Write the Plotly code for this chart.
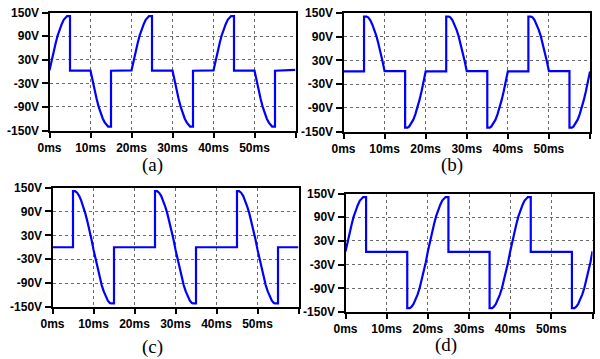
import plotly.graph_objects as go

# ---- data (time in ms, voltage in V) ----
T_A = [0, 0.5, 1, 1.5, 2, 2.5, 3, 3.5, 4, 4.3, 5, 5, 10, 10.5, 11, 11.5, 12, 12.5, 13, 13.5, 14, 14.3, 15, 15,
       20, 20.5, 21, 21.5, 22, 22.5, 23, 23.5, 24, 24.3, 25, 25, 30, 30.5, 31, 31.5, 32, 32.5, 33, 33.5, 34, 34.3, 35, 35,
       40, 40.5, 41, 41.5, 42, 42.5, 43, 43.5, 44, 44.3, 45, 45, 50, 50.5, 51, 51.5, 52, 52.5, 53, 53.5, 54, 54.3, 55, 55,
       60]
V_A = [3, 28, 52, 72, 92, 108, 121, 132, 139, 141, 141, 2, 2, -24, -48, -70, -90, -106, -120, -130, -137, -140, -140, 2,
       3, 28, 52, 72, 92, 108, 121, 132, 139, 141, 141, 2, 2, -24, -48, -70, -90, -106, -120, -130, -137, -140, -140, 2,
       3, 28, 52, 72, 92, 108, 121, 132, 139, 141, 141, 2, 2, -24, -48, -70, -90, -106, -120, -130, -137, -140, -140, 2,
       4]

T_B = [0, 5, 5, 5.6, 6, 6.5, 7, 7.5, 8, 8.5, 9, 9.5, 10, 15, 15, 15.6, 16, 16.5, 17, 17.5, 18, 18.5, 19, 19.5,
       20, 25, 25, 25.6, 26, 26.5, 27, 27.5, 28, 28.5, 29, 29.5, 30, 35, 35, 35.6, 36, 36.5, 37, 37.5, 38, 38.5, 39, 39.5,
       40, 45, 45, 45.6, 46, 46.5, 47, 47.5, 48, 48.5, 49, 49.5, 50, 55, 55, 55.6, 56, 56.5, 57, 57.5, 58, 58.5, 59, 59.5,
       60]
V_B = [2, 2, 141, 141, 139, 132, 121, 108, 92, 72, 52, 28, 3, 3, -140, -140, -137, -130, -120, -106, -90, -70, -48, -24,
       2, 2, 141, 141, 139, 132, 121, 108, 92, 72, 52, 28, 3, 3, -140, -140, -137, -130, -120, -106, -90, -70, -48, -24,
       2, 2, 141, 141, 139, 132, 121, 108, 92, 72, 52, 28, 3, 3, -140, -140, -137, -130, -120, -106, -90, -70, -48, -24,
       2]

T_C = [0, 5, 5, 5.5, 6, 6.5, 7, 7.5, 8, 8.5, 9, 9.5, 10, 10.5, 11, 11.5, 12, 12.5, 13, 13.5, 14, 14.3, 15, 15,
       25, 25, 25.5, 26, 26.5, 27, 27.5, 28, 28.5, 29, 29.5, 30, 30.5, 31, 31.5, 32, 32.5, 33, 33.5, 34, 34.3, 35, 35,
       45, 45, 45.5, 46, 46.5, 47, 47.5, 48, 48.5, 49, 49.5, 50, 50.5, 51, 51.5, 52, 52.5, 53, 53.5, 54, 54.3, 55, 55,
       60]
V_C = [0, 0, 141, 141, 137, 129, 117, 102, 85, 65, 44, 20, -6, -30, -54, -76, -95, -111, -124, -134, -140, -141, -141, 0,
       0, 141, 141, 137, 129, 117, 102, 85, 65, 44, 20, -6, -30, -54, -76, -95, -111, -124, -134, -140, -141, -141, 0,
       0, 141, 141, 137, 129, 117, 102, 85, 65, 44, 20, -6, -30, -54, -76, -95, -111, -124, -134, -140, -141, -141, 0,
       0]

T_D = [0, 0.5, 1, 1.5, 2, 2.5, 3, 3.5, 4, 4.3, 5, 5, 15, 15, 15.6, 16, 16.5, 17, 17.5, 18, 18.5, 19, 19.5,
       20, 20.5, 21, 21.5, 22, 22.5, 23, 23.5, 24, 24.3, 25, 25, 35, 35, 35.6, 36, 36.5, 37, 37.5, 38, 38.5, 39, 39.5,
       40, 40.5, 41, 41.5, 42, 42.5, 43, 43.5, 44, 44.3, 45, 45, 55, 55, 55.6, 56, 56.5, 57, 57.5, 58, 58.5, 59, 59.5,
       60]
V_D = [3, 28, 52, 72, 92, 108, 121, 132, 139, 141, 141, 2, 2, -140, -140, -137, -130, -120, -106, -90, -70, -48, -24,
       3, 28, 52, 72, 92, 108, 121, 132, 139, 141, 141, 2, 2, -140, -140, -137, -130, -120, -106, -90, -70, -48, -24,
       3, 28, 52, 72, 92, 108, 121, 132, 139, 141, 141, 2, 2, -140, -140, -137, -130, -120, -106, -90, -70, -48, -24,
       4]

X_TICKS = [0, 10, 20, 30, 40, 50, 60]
X_LABELS = ["0ms", "10ms", "20ms", "30ms", "40ms", "50ms", ""]
Y_TICKS = [-150, -90, -30, 30, 90, 150]
Y_LABELS = ["-150V", "-90V", "-30V", "30V", "90V", "150V"]
PANEL_LABELS = ["(a)", "(b)", "(c)", "(d)"]

W, H = 600, 359
# plot boxes in pixels: (left, right, top, bottom)
boxes = [(49.5, 295.5, 12.5, 130.5),
         (343.5, 590.0, 13.0, 131.5),
         (52.5, 298.5, 187.5, 307.0),
         (345.5, 592.5, 193.5, 312.0)]
label_pos = [(152, 165), (452, 165), (152, 347), (446, 345)]

series = [(T_A, V_A), (T_B, V_B), (T_C, V_C), (T_D, V_D)]

fig = go.Figure()
tickfont = dict(family="Liberation Sans", size=12, color="black", weight="bold")
layout = dict(width=W, height=H, margin=dict(l=0, r=0, t=0, b=0, autoexpand=False),
              paper_bgcolor="white", plot_bgcolor="white", showlegend=False)

for i, ((t, v), (l, r, tp, bt)) in enumerate(zip(series, boxes)):
    n = "" if i == 0 else str(i + 1)
    fig.add_trace(go.Scatter(x=t, y=v, mode="lines", xaxis="x" + n, yaxis="y" + n,
                             line=dict(color="#0000FF", width=2.2), hoverinfo="skip"))
    layout["xaxis" + n] = dict(domain=[l / W, r / W], anchor="y" + n, range=[0, 60],
                               tickmode="array", tickvals=X_TICKS, ticktext=X_LABELS,
                               showgrid=True, gridcolor="#6a6a6a", griddash="3px,3px", gridwidth=1,
                               showline=True, linecolor="black", linewidth=2, mirror=True,
                               ticks="outside", ticklen=5, tickwidth=2, tickcolor="black",
                               tickfont=tickfont, zeroline=False, fixedrange=True, automargin=False)
    layout["yaxis" + n] = dict(domain=[1 - bt / H, 1 - tp / H], anchor="x" + n, range=[-150, 150],
                               tickmode="array", tickvals=Y_TICKS, ticktext=Y_LABELS,
                               showgrid=True, gridcolor="#6a6a6a", griddash="3px,3px", gridwidth=1,
                               showline=True, linecolor="black", linewidth=2, mirror=True,
                               ticks="outside", ticklen=6, tickwidth=2, tickcolor="black",
                               tickfont=tickfont, zeroline=False, fixedrange=True, automargin=False)

fig.update_layout(**layout)

for txt, (x, y) in zip(PANEL_LABELS, label_pos):
    fig.add_annotation(text=txt, x=x / W, y=1 - y / H, xref="paper", yref="paper",
                       showarrow=False, xanchor="center", yanchor="middle",
                       font=dict(family="Liberation Serif", size=19, color="black"))

fig.write_html("out.html", config={"displayModeBar": False},
               post_script="document.body.style.margin='0';document.body.style.overflow='hidden';"
                           "document.documentElement.style.overflow='hidden';")
